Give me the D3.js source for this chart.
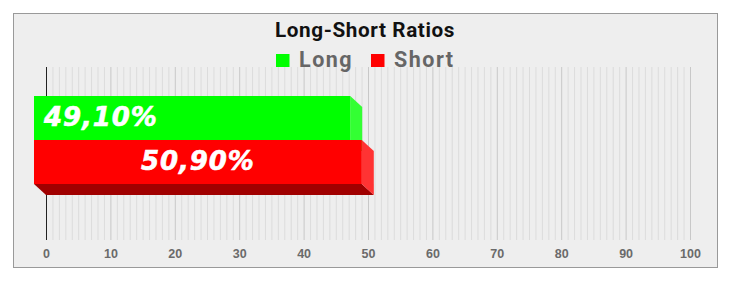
<!DOCTYPE html>
<html>
<head>
<meta charset="utf-8">
<script src="https://cdn.jsdelivr.net/npm/d3@7.9.0/dist/d3.min.js"></script>
<style>
  body { margin: 0; background: #fff; }
  svg { display: block; font-family: Roboto, "Noto Sans", sans-serif; }
</style>
</head>
<body>
<svg id="chart" width="730" height="292"></svg>
<script>
// --- data ---
const categories = ["Long", "Short"];
const values = [49.10, 50.90];
const colors = ["#00ff00", "#ff0000"];
const sideColors = ["#33ff33", "#ff3333"];
const bottomColors = ["#00a000", "#a00000"];
const xTicks = [0, 10, 20, 30, 40, 50, 60, 70, 80, 90, 100];

const svg = d3.select("#chart");

// panel
svg.append("rect")
  .attr("x", 13.5).attr("y", 13.5)
  .attr("width", 704).attr("height", 254)
  .attr("fill", "#eeeeee")
  .attr("stroke", "#999").attr("stroke-width", 1);

// 3D depth (front face offset from back plane)
const depthX = 12, depthY = 11;

const x = d3.scaleLinear().domain([0, 100]).range([46, 690]);
const y = d3.scaleBand().domain(categories).range([63, 239]).paddingInner(0).paddingOuter(1);

const gridTop = 67, gridBottom = 240;

// minor grid
svg.append("g")
  .selectAll("line")
  .data(d3.range(0, 101, 1).filter(v => v % 10 !== 0))
  .join("line")
  .attr("x1", d => x(d) + 0.5).attr("x2", d => x(d) + 0.5)
  .attr("y1", gridTop).attr("y2", gridBottom)
  .attr("stroke", "#dcdcdc").attr("stroke-width", 1);

// major grid
svg.append("g")
  .selectAll("line")
  .data(xTicks.slice(1))
  .join("line")
  .attr("x1", d => x(d) + 0.5).attr("x2", d => x(d) + 0.5)
  .attr("y1", gridTop).attr("y2", gridBottom)
  .attr("stroke", "#c8c8c8").attr("stroke-width", 1);

// zero line
svg.append("line")
  .attr("x1", x(0) + 0.5).attr("x2", x(0) + 0.5)
  .attr("y1", gridTop).attr("y2", gridBottom)
  .attr("stroke", "#222").attr("stroke-width", 1);

// x axis labels
const xAxis = d3.axisBottom(x).tickValues(xTicks).tickSize(0).tickPadding(0);
const ax = svg.append("g")
  .attr("transform", "translate(0,258)")
  .call(xAxis);
ax.select(".domain").remove();
ax.selectAll("text")
  .attr("y", 0)
  .attr("dy", null)
  .attr("font-size", "12.5px")
  .attr("font-weight", "bold")
  .attr("fill", "#6a6a6a");

// bars (3D)
const bars = categories.map((c, i) => ({ cat: c, value: values[i], i }));

const bar = svg.append("g")
  .selectAll("g")
  .data(bars)
  .join("g");

// bottom face
bar.append("path")
  .attr("fill", d => bottomColors[d.i])
  .attr("d", d => {
    const y1 = y(d.cat) + y.bandwidth();
    const x0 = x(0), x1 = x(d.value);
    return `M${x0 - depthX},${y1 - depthY}L${x1 - depthX},${y1 - depthY}L${x1},${y1}L${x0},${y1}Z`;
  });

// side face
bar.append("path")
  .attr("fill", d => sideColors[d.i])
  .attr("d", d => {
    const y0 = y(d.cat), y1 = y0 + y.bandwidth();
    const x1 = x(d.value);
    return `M${x1 - depthX},${y0 - depthY}L${x1},${y0}L${x1},${y1}L${x1 - depthX},${y1 - depthY}Z`;
  });

// front face
bar.append("rect")
  .attr("x", d => x(0) - depthX)
  .attr("y", d => y(d.cat) - depthY)
  .attr("width", d => x(d.value) - x(0))
  .attr("height", y.bandwidth())
  .attr("fill", d => colors[d.i]);

// value labels
const fmt = v => d3.format(".2f")(v).replace(".", ",") + "%";
bar.append("text")
  .attr("x", d => d.i === 0 ? x(0) - depthX + 10 : x(0) - depthX + (x(d.value) - x(0)) / 2)
  .attr("y", d => y(d.cat) - depthY + y.bandwidth() / 2 + 8)
  .attr("text-anchor", d => d.i === 0 ? "start" : "middle")
  .attr("font-size", "26px")
  .attr("letter-spacing", "0.9px")
  .attr("font-weight", "bold")
  .attr("font-style", "italic")
  .attr("font-family", "Verdana, 'DejaVu Sans', sans-serif")
  .attr("fill", "#fff")
  .attr("stroke", "#fff")
  .attr("stroke-width", 0.6)
  .text(d => fmt(d.value));

// title
svg.append("text")
  .attr("x", 365).attr("y", 37)
  .attr("text-anchor", "middle")
  .attr("font-size", "20.7px")
  .attr("letter-spacing", "0.6px")
  .attr("font-weight", "bold")
  .attr("fill", "#111")
  .text("Long-Short Ratios");

// legend
const legendX = [276, 371];
const legend = svg.append("g")
  .selectAll("g")
  .data(categories)
  .join("g")
  .attr("transform", (d, i) => `translate(${legendX[i]},54)`);
legend.append("rect")
  .attr("width", 13.5).attr("height", 13)
  .attr("fill", (d, i) => colors[i]);
legend.append("text")
  .attr("x", 23).attr("y", 12.5)
  .attr("font-size", "21.5px")
  .attr("letter-spacing", "1.5px")
  .attr("font-weight", "bold")
  .attr("fill", "#666")
  .text(d => d);
</script>
</body>
</html>
